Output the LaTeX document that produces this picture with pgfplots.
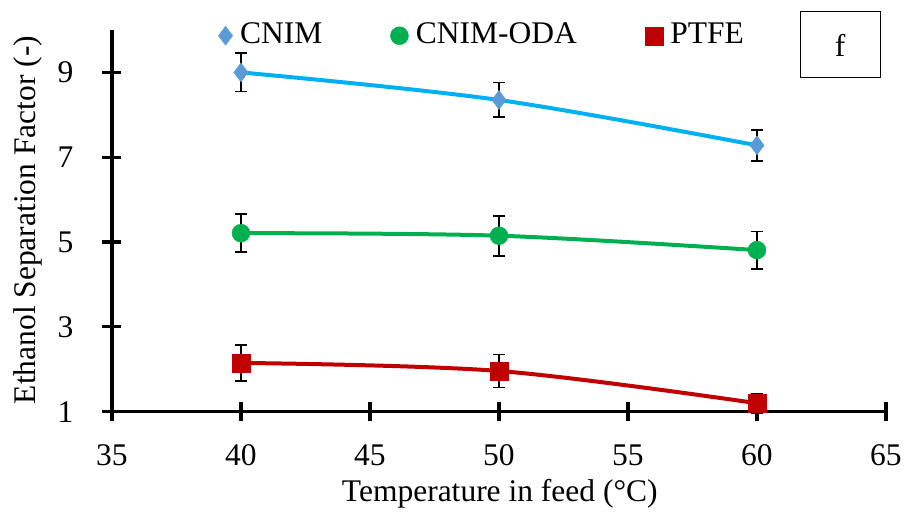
\documentclass[border=0pt]{standalone}
\usepackage{fontspec}
\setmainfont{Liberation Serif}
\newfontfamily\tnr{Liberation Serif}
\usepackage{pgfplots}
\usepackage{pgfplotstable}
\pgfplotsset{compat=1.18}

\definecolor{cnimline}{RGB}{0,176,240}
\definecolor{cnimmark}{RGB}{91,155,213}
\definecolor{odagreen}{RGB}{0,176,80}
\definecolor{ptfered}{RGB}{192,0,0}

\newcommand{\bigfont}{\tnr\fontsize{31.5}{36}\selectfont}

\pgfplotstableread{
x y e
40 9.00 0.45
50 8.35 0.41
60 7.28 0.37
}\cnim
\pgfplotstableread{
x y e
40 5.21 0.45
50 5.15 0.47
60 4.81 0.44
}\oda
\pgfplotstableread{
x y e
40 2.15 0.42
50 1.96 0.39
60 1.20 0.23
}\ptfe

\begin{document}
\bigfont
\begin{tikzpicture}[font=\bigfont]
\path[use as bounding box] (-112pt,-105.3pt) rectangle (794pt,411.7pt);
\begin{axis}[
  scale only axis, width=774pt, height=381.7pt,
  xmin=35, xmax=65, ymin=1, ymax=10,
  xtick={35,40,...,65}, ytick={1,3,5,7,9},
  axis x line=bottom, axis y line=left,
  axis line style={-, line width=3.5pt, black},
  tick align=center, major tick length=19pt,
  every tick/.style={black, line width=3.2pt},
  tick label style={font=\bigfont, /pgf/number format/assume math mode=true},
  yticklabel={\bigfont\pgfmathprintnumber[assume math mode=true]{\tick}},
  xticklabel={\bigfont\pgfmathprintnumber[assume math mode=true]{\tick}},
  yticklabel style={anchor=east, inner sep=0pt, xshift=-29pt},
  xticklabel style={anchor=center, inner sep=0pt, yshift=-34pt},
  xlabel={Temperature in feed (°C)},
  ylabel={Ethanol Separation Factor (-)},
  label style={font=\bigfont},
  xlabel style={at={(axis description cs:0.501,-0.215)}, anchor=center, inner sep=0pt},
  ylabel style={at={(axis description cs:-0.1085,0.502)}, anchor=center, inner sep=0pt},
  legend columns=3,
  legend style={at={(axis description cs:0.477,0.985)}, anchor=center, draw=none, fill=none,
    font=\bigfont,
    nodes={inner sep=0pt, font=\bigfont},
    /tikz/every odd column/.append style={column sep=7.5pt},
    /tikz/every even column/.append style={column sep=68pt}},
  legend image code/.code={\draw[#1] plot coordinates {(0pt,0pt)};},
  clip=false,
]
% smooth curves
\addplot[forget plot, cnimline, line width=4pt, smooth, tension=0.55] table[x=x,y=y] {\cnim};
\addplot[forget plot, odagreen, line width=4pt, smooth, tension=0.55] table[x=x,y=y] {\oda};
\addplot[forget plot, ptfered, line width=4pt, smooth, tension=0.55] table[x=x,y=y] {\ptfe};
% markers with error bars
\addplot[only marks, mark=diamond*, mark size=9.5pt, color=cnimmark,
  error bars/.cd, y dir=both, y explicit,
  error bar style={black, line width=1.8pt},
  error mark options={black, rotate=90, mark size=6pt, line width=1.8pt}]
  table[x=x, y=y, y error=e] {\cnim};
\addlegendentry{\bigfont CNIM}
\addplot[only marks, mark=*, mark size=9pt, color=odagreen,
  error bars/.cd, y dir=both, y explicit,
  error bar style={black, line width=1.8pt},
  error mark options={black, rotate=90, mark size=6pt, line width=1.8pt}]
  table[x=x, y=y, y error=e] {\oda};
\addlegendentry{\bigfont CNIM-ODA}
\addplot[only marks, mark=square*, mark size=9pt, color=ptfered,
  error bars/.cd, y dir=both, y explicit,
  error bar style={black, line width=1.8pt},
  error mark options={black, rotate=90, mark size=6pt, line width=1.8pt}]
  table[x=x, y=y, y error=e] {\ptfe};
\addlegendentry{\bigfont PTFE}
\end{axis}
\draw[line width=1pt] (688pt,333.7pt) rectangle (768pt,399.7pt);
\node[inner sep=0pt, font=\bigfont] at (728pt,366.7pt) {f};
\end{tikzpicture}
\end{document}
